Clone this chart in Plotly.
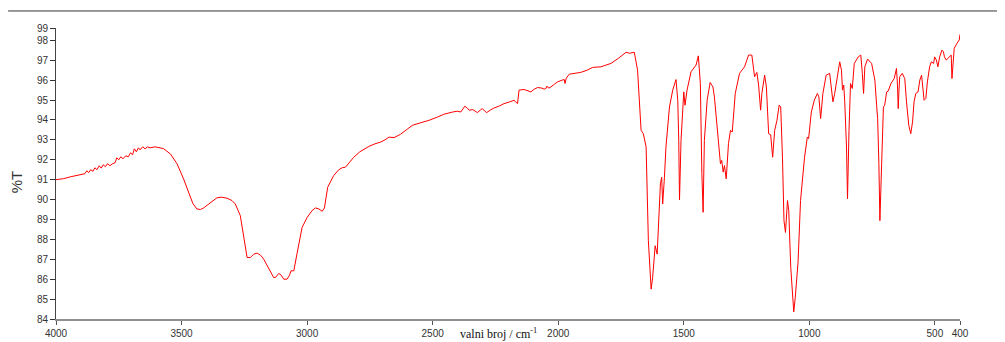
import plotly.graph_objects as go

wavenumber = [
    4000, 3970, 3940, 3917, 3900, 3885, 3877, 3870, 3862, 3853, 3845, 3837, 3828, 3820, 3812, 3803,
    3795, 3785, 3775, 3765, 3758, 3750, 3742, 3733, 3722, 3712, 3703, 3695, 3688, 3680, 3672, 3665,
    3655, 3645, 3636, 3625, 3605, 3590, 3572, 3545, 3518, 3492, 3472, 3455, 3439, 3425, 3412, 3385,
    3359, 3340, 3319, 3299, 3286, 3266, 3250, 3239, 3226, 3213, 3199, 3185, 3173, 3160, 3146, 3133,
    3125, 3113, 3103, 3093, 3080, 3070, 3064, 3053, 3040, 3020, 3000, 2980, 2967, 2953, 2940, 2931,
    2918, 2894, 2874, 2860, 2847, 2827, 2814, 2790, 2754, 2730, 2707, 2690, 2674, 2654, 2628, 2600,
    2581, 2550, 2515, 2480, 2455, 2420, 2402, 2388, 2380, 2372, 2362, 2355, 2340, 2333, 2322, 2310,
    2302, 2293, 2285, 2270, 2256, 2235, 2216, 2195, 2176, 2162, 2158, 2156, 2136, 2120, 2109, 2095,
    2082, 2065, 2056, 2049, 2045, 2038, 2029, 2015, 2003, 1985, 1976, 1973, 1968, 1956, 1935, 1910,
    1885, 1863, 1830, 1810, 1790, 1760, 1730, 1715, 1697, 1684, 1670, 1661, 1650, 1641, 1630, 1624,
    1614, 1606, 1593, 1588, 1584, 1577, 1571, 1557, 1544, 1531, 1524, 1520, 1517, 1511, 1500, 1495,
    1487, 1471, 1451, 1442, 1434, 1428, 1423, 1418, 1407, 1395, 1384, 1378, 1364, 1354, 1349, 1343,
    1338, 1331, 1322, 1314, 1307, 1295, 1278, 1258, 1242, 1229, 1218, 1209, 1202, 1194, 1189, 1178,
    1171, 1162, 1154, 1146, 1138, 1129, 1120, 1114, 1107, 1101, 1095, 1087, 1082, 1074, 1062, 1056,
    1045, 1035, 1019, 1008, 1003, 992, 980, 968, 962, 955, 946, 933, 919, 913, 906, 899,
    890, 879, 872, 868, 863, 859, 852, 848, 842, 836, 829, 821, 805, 795, 789, 784,
    779, 768, 752, 739, 732, 728, 723, 719, 712, 705, 700, 692, 686, 675, 662, 653,
    649, 646, 643, 640, 630, 620, 613, 604, 596, 589, 583, 576, 567, 560, 553, 547,
    543, 536, 530, 521, 514, 505, 501, 494, 488, 481, 472, 466, 462, 455, 442, 435,
    432, 428, 423, 412, 403, 400,
]

transmittance = [
    91.0, 91.05, 91.15, 91.2, 91.25, 91.3, 91.45, 91.35, 91.5, 91.42, 91.6, 91.5, 91.7, 91.58, 91.75, 91.65,
    91.8, 91.7, 91.8, 91.85, 92.1, 92.0, 92.15, 92.05, 92.2, 92.15, 92.35, 92.25, 92.55, 92.4, 92.6, 92.5,
    92.65, 92.55, 92.65, 92.6, 92.65, 92.6, 92.56, 92.3, 91.8, 91.04, 90.37, 89.8, 89.53, 89.5, 89.58, 89.85,
    90.09, 90.12, 90.07, 89.95, 89.78, 89.19, 88.0, 87.09, 87.09, 87.25, 87.31, 87.2, 87.01, 86.7, 86.42, 86.08,
    86.1, 86.29, 86.2, 86.0, 86.0, 86.2, 86.42, 86.42, 87.3, 88.6, 89.1, 89.45, 89.58, 89.53, 89.41, 89.58,
    90.62, 91.21, 91.5, 91.6, 91.63, 91.97, 92.13, 92.4, 92.67, 92.8, 92.89, 93.0, 93.14, 93.11, 93.28, 93.55,
    93.73, 93.85, 93.98, 94.15, 94.29, 94.4, 94.44, 94.4, 94.55, 94.69, 94.6, 94.49, 94.52, 94.45, 94.37, 94.5,
    94.57, 94.45, 94.37, 94.5, 94.6, 94.7, 94.82, 94.9, 94.99, 94.82, 95.4, 95.5, 95.53, 95.45, 95.41, 95.55,
    95.63, 95.6, 95.55, 95.58, 95.7, 95.6, 95.66, 95.8, 95.91, 96.0, 96.03, 95.83, 96.1, 96.3, 96.35, 96.39,
    96.5, 96.64, 96.67, 96.75, 96.84, 97.1, 97.4, 97.35, 97.4, 96.5, 93.48, 93.31, 92.64, 87.93, 85.5, 86.08,
    87.68, 87.26, 90.79, 91.12, 89.78, 91.12, 92.64, 94.65, 95.5, 96.03, 94.99, 92.97, 89.98, 92.97, 95.41, 94.74,
    95.5, 96.42, 96.76, 97.22, 95.83, 91.3, 89.36, 92.97, 94.99, 95.88, 95.66, 95.16, 93.23, 91.8, 91.97, 91.38,
    91.71, 91.04, 92.81, 93.48, 93.39, 95.33, 96.34, 96.67, 97.26, 97.26, 96.17, 96.39, 95.75, 94.49, 95.33, 96.25,
    95.66, 93.31, 93.26, 92.13, 93.48, 93.98, 94.74, 94.65, 92.13, 88.94, 88.35, 89.95, 89.45, 86.59, 84.36, 85.08,
    86.84, 89.95, 92.13, 93.14, 93.06, 94.4, 95.0, 95.33, 95.16, 94.07, 95.33, 96.25, 96.34, 95.75, 94.91, 95.33,
    96.0, 96.92, 96.5, 95.5, 95.75, 94.91, 92.64, 90.04, 93.48, 95.83, 95.58, 96.84, 97.17, 97.26, 96.34, 95.33,
    96.67, 97.06, 96.84, 96.0, 94.74, 94.07, 91.8, 88.94, 91.8, 94.65, 94.74, 95.41, 95.45, 95.83, 96.08, 96.59,
    95.75, 94.57, 95.5, 96.17, 96.34, 96.08, 94.91, 93.73, 93.31, 93.9, 94.91, 95.33, 95.41, 96.0, 96.25, 95.41,
    94.99, 95.08, 95.91, 96.67, 96.92, 96.84, 97.17, 97.01, 96.67, 97.17, 97.51, 97.43, 97.17, 97.01, 97.17, 97.26,
    96.08, 96.92, 97.6, 97.85, 98.02, 98.3,
]

x_tickvals = [4000, 3500, 3000, 2500, 2000, 1500, 1000, 500, 400]
x_ticktext = ["4000", "3500", "3000", "2500", "2000", "1500", "1000", "500", "400"]
y_tickvals = [84, 85, 86, 87, 88, 89, 90, 91, 92, 93, 94, 95, 96, 97, 98, 98.62]
y_ticktext = ["84", "85", "86", "87", "88", "89", "90", "91", "92", "93", "94", "95", "96", "97", "98", "99"]

fig = go.Figure()
fig.add_trace(go.Scatter(
    x=wavenumber, y=transmittance, mode="lines",
    line=dict(color="#ff0000", width=1), showlegend=False, hoverinfo="x+y",
))

tick_font = dict(family="Liberation Sans, Arial, sans-serif", size=10, color="#333333")

fig.update_layout(
    width=997, height=334,
    margin=dict(l=48, r=45, t=20, b=23),
    paper_bgcolor="white", plot_bgcolor="white",
    xaxis=dict(
        range=[4000, 400], tickvals=x_tickvals, ticktext=x_ticktext,
        ticks="outside", ticklen=4, tickcolor="#555555",
        showline=True, linecolor="#909090", linewidth=2,
        showgrid=False, zeroline=False, tickfont=tick_font,
        automargin=False,
    ),
    yaxis=dict(
        range=[84, 98.62], tickvals=y_tickvals, ticktext=y_ticktext,
        ticks="outside", ticklen=5, tickcolor="#333333",
        showline=True, linecolor="#444444", linewidth=1,
        showgrid=False, zeroline=False, tickfont=tick_font,
        automargin=False,
    ),
    shapes=[dict(
        type="line", xref="paper", yref="paper",
        x0=-0.053, x1=1.044, y0=1.0585, y1=1.0585,
        line=dict(color="#333333", width=1),
    )],
    annotations=[
        dict(text="%T", xref="paper", yref="paper", x=-0.0442, y=0.47,
             xanchor="center", yanchor="middle",
             textangle=-90, showarrow=False,
             font=dict(family="Liberation Sans, Arial, sans-serif", size=15, color="#333333")),
        dict(text="valni broj / cm<sup>-1</sup>", xref="paper", yref="paper",
             x=0.49, y=-0.05, xanchor="center", yanchor="middle", showarrow=False,
             font=dict(family="Liberation Serif, Times New Roman, serif", size=12, color="#111111")),
    ],
)

fig.write_html("out.html")
